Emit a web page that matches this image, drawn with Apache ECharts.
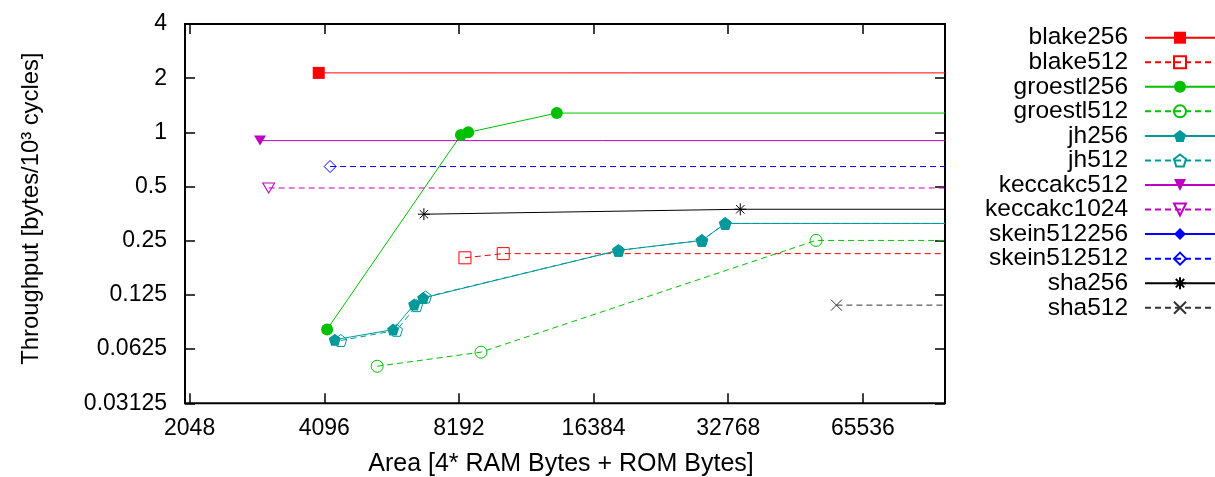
<!DOCTYPE html>
<html><head><meta charset="utf-8">
<script src="https://cdn.jsdelivr.net/npm/echarts@6/dist/echarts.min.js"></script>
<style>html,body{margin:0;padding:0;background:#fff}#c{width:1215px;height:477px}</style>
</head><body><div id="c"></div>
<script>
// ---- data (x = area in bytes, y = throughput) ----
const xTicks = [2048, 4096, 8192, 16384, 32768, 65536];
const yTicks = [0.03125, 0.0625, 0.125, 0.25, 0.5, 1, 2, 4];
const xRange = [2000, 100000];
const yRange = [0.03125, 4];

const names = ['blake256','blake512','groestl256','groestl512','jh256','jh512',
  'keccakc512','keccakc1024','skein512256','skein512512','sha256','sha512'];

const blake256 = [[3981, 2.14]];
const blake512 = [[8450, 0.201], [10290, 0.212]];
const groestl256 = [[4156, 0.0804], [8278, 0.968], [8594, 1.0], [13560, 1.28]];
const groestl512 = [[5378, 0.0502], [9177, 0.0601], [51490, 0.251]];
const jh256 = [[4324, 0.0705], [5839, 0.0802], [6506, 0.1107], [6816, 0.1202], [18620, 0.221], [28610, 0.251], [32270, 0.312]];
const jh512 = [[4459, 0.0698], [5943, 0.0795], [6587, 0.109], [6900, 0.1217], [18620, 0.221], [28610, 0.251], [32270, 0.312]];
const keccakc512 = [[2943, 0.9]];
const keccakc1024 = [[3077, 0.491]];
const skein512256 = [];
const skein512512 = [[4221, 0.646]];
const sha256 = [[6840, 0.351], [34860, 0.374]];
const sha512 = [[57180, 0.1097]];

const seriesData = {blake256, blake512, groestl256, groestl512, jh256, jh512,
  keccakc512, keccakc1024, skein512256, skein512512, sha256, sha512};

// ---- styles ----
const FONT = '"Liberation Sans", Arial, sans-serif';
const PENT = 'path://M5,0 L9.755,3.455 L7.939,9.045 L2.061,9.045 L0.245,3.455 Z';
const STAR = 'path://M5,0 L5,10 M0,5 L10,5 M1.5,1.5 L8.5,8.5 M8.5,1.5 L1.5,8.5';
const XS = 'path://M0,0 L10,10 M10,0 L0,10';
const styles = {
  blake256:   {color:'#ff0000', symbol:'rect', size:12},
  blake512:   {color:'#ff0000', dash:true, symbol:'rect', size:12, hollow:true},
  groestl256: {color:'#00c000', symbol:'circle', size:12},
  groestl512: {color:'#00c000', dash:true, symbol:'circle', size:12, hollow:true},
  jh256:      {color:'#009999', symbol:PENT, size:12},
  jh512:      {color:'#009999', dash:true, symbol:PENT, size:12, hollow:true},
  keccakc512: {color:'#c000c0', symbol:'triangle', rotate:180, size:[12,10]},
  keccakc1024:{color:'#c000c0', dash:true, symbol:'triangle', rotate:180, size:[12,10], hollow:true},
  skein512256:{color:'#0000ff', symbol:'diamond', size:12},
  skein512512:{color:'#0000ff', dash:true, symbol:'diamond', size:12, hollow:true},
  sha256:     {color:'#000000', symbol:STAR, size:12, hollow:true},
  sha512:     {color:'#333333', dash:true, symbol:XS, size:11, hollow:true}
};

function isTick(list, v) {
  return list.find(t => Math.abs(t - v) / t < 1e-6);
}

const series = names.map(n => {
  const s = styles[n];
  const pts = seriesData[n];
  const data = pts.map(p => ({value: p}));
  if (pts.length) {
    // horizontal continuation to the right edge of the plot
    data.push({value: [xRange[1], pts[pts.length - 1][1]], symbol: 'none'});
  }
  return {
    name: n, type: 'line', data: data,
    symbol: s.symbol, symbolSize: s.size, symbolRotate: s.rotate || 0,
    showAllSymbol: true, clip: true, animation: false,
    lineStyle: {color: s.color, width: 1, type: s.dash ? [6, 4] : 'solid'},
    itemStyle: s.hollow
      ? {color: 'rgba(0,0,0,0)', borderColor: s.color, borderWidth: 1}
      : {color: s.color, borderWidth: 0},
    emphasis: {disabled: true}
  };
});

const axisCommon = {
  type: 'log', logBase: 2,
  axisLine: {show: false},
  splitLine: {show: false},
  axisTick: {show: true, inside: true, length: 10, lineStyle: {color: '#000', width: 1.5}}
};

const option = {
  backgroundColor: '#fff',
  animation: false,
  grid: {left: 185, right: 270, top: 24, bottom: 73.7, show: true, borderColor: '#000', borderWidth: 2,
         containLabel: false, outerBoundsMode: 'none'},
  xAxis: [
    Object.assign({}, axisCommon, {
      position: 'bottom', min: xRange[0], max: xRange[1],
      name: 'Area [4* RAM Bytes + ROM Bytes]', nameLocation: 'middle', nameGap: 48,
      nameTextStyle: {fontSize: 25, fontFamily: FONT, color: '#000', padding: [0, 8, 0, 0]},
      axisLabel: {show: true, margin: 14, fontSize: 23, fontFamily: FONT, color: '#000',
        showMinLabel: false, showMaxLabel: false,
        formatter: v => { const t = isTick(xTicks, v); return t ? String(t) : ''; }}
    }),
    Object.assign({}, axisCommon, {
      position: 'top', min: xRange[0], max: xRange[1], axisLabel: {show: false}
    })
  ],
  yAxis: [
    Object.assign({}, axisCommon, {
      position: 'left', min: yRange[0], max: yRange[1], splitNumber: 7,
      name: 'Throughput [bytes/10³ cycles]', nameLocation: 'middle', nameGap: 142,
      nameTextStyle: {fontSize: 23.8, fontFamily: FONT, color: '#000', padding: [0, 0, 0, 10]},
      axisLabel: {show: true, margin: 18, fontSize: 23, fontFamily: FONT, color: '#000',
        formatter: v => { const t = isTick(yTicks, v); return t ? String(t) : ''; }}
    }),
    Object.assign({}, axisCommon, {
      position: 'right', min: yRange[0], max: yRange[1], splitNumber: 7, axisLabel: {show: false}
    })
  ],
  legend: {
    data: names, orient: 'vertical', align: 'right',
    left: 985, top: 25.2, padding: 0, itemGap: -0.45,
    itemWidth: 70, itemHeight: 15,
    selectedMode: false,
    formatter: n => '{n|' + n + '}{g|}',
    textStyle: {fontSize: 24.5, fontFamily: FONT, color: '#000',
      rich: {n: {width: 130, align: 'right', fontSize: 24.5, fontFamily: FONT, color: '#000'},
             g: {width: 12, align: 'right'}}}
  },
  series: series
};

const chart = echarts.init(document.getElementById('c'));
chart.setOption(option);
</script>
</body></html>
